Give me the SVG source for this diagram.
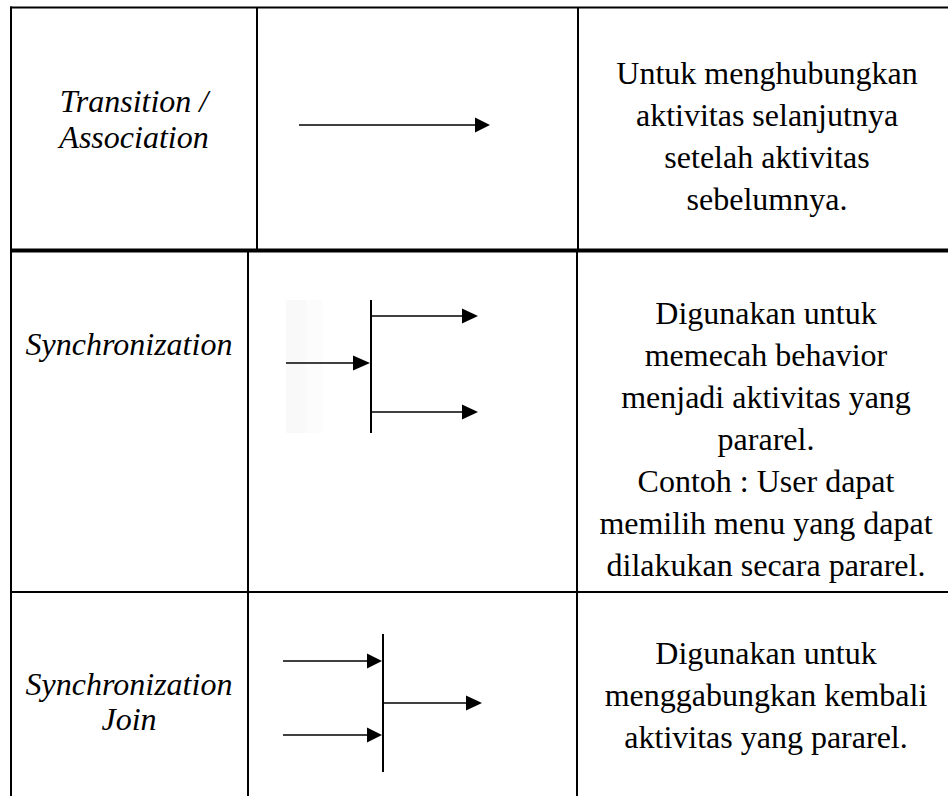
<svg xmlns="http://www.w3.org/2000/svg" width="948" height="796" viewBox="0 0 948 796">
<style>
.grid{stroke:#000;stroke-width:2;fill:none}
.thick{stroke:#000;stroke-width:4;fill:none}
.lbl{font-family:"Liberation Serif","Times New Roman",serif;font-size:32px;font-style:italic;fill:#000;text-anchor:middle}
.desc{font-family:"Liberation Serif","Times New Roman",serif;font-size:32px;fill:#000;text-anchor:middle}
.ln{stroke:#000;stroke-width:1.6;fill:none}
.bar{stroke:#000;stroke-width:2;fill:none}
.head{fill:#000}
</style>
<rect width="948" height="796" fill="#fff"/>
<g id="table">
<line class="grid" x1="10" y1="7.5" x2="948" y2="7.5"/>
<line class="grid" x1="11" y1="6.5" x2="11" y2="796"/>
<line class="grid" x1="257" y1="7.5" x2="257" y2="250"/>
<line class="grid" x1="578" y1="7.5" x2="578" y2="250"/>
<line class="thick" x1="10" y1="250.5" x2="948" y2="250.5"/>
<line class="grid" x1="248" y1="250" x2="248" y2="796"/>
<line class="grid" x1="577" y1="250" x2="577" y2="796"/>
<line class="grid" x1="10" y1="592" x2="948" y2="592"/>
</g>
<g id="row-transition">
<text class="lbl" x="134" y="112">Transition /</text>
<text class="lbl" x="134" y="148">Association</text>
<text class="desc" x="767" y="84">Untuk menghubungkan</text>
<text class="desc" x="767" y="126">aktivitas selanjutnya</text>
<text class="desc" x="767" y="168">setelah aktivitas</text>
<text class="desc" x="767" y="210">sebelumnya.</text>
</g>
<g id="row-sync">
<rect x="286" y="300" width="20" height="133" fill="#f9f9f9"/>
<rect x="306" y="300" width="16" height="133" fill="#fcfcfc"/>
<text class="lbl" x="129" y="355">Synchronization</text>
<text class="desc" x="766" y="324">Digunakan untuk</text>
<text class="desc" x="766" y="366">memecah behavior</text>
<text class="desc" x="766" y="408">menjadi aktivitas yang</text>
<text class="desc" x="766" y="450">pararel.</text>
<text class="desc" x="766" y="492">Contoh : User dapat</text>
<text class="desc" x="766" y="534">memilih menu yang dapat</text>
<text class="desc" x="766" y="576">dilakukan secara pararel.</text>
</g>
<g id="row-join">
<text class="lbl" x="129" y="695">Synchronization</text>
<text class="lbl" x="129" y="730">Join</text>
<text class="desc" x="766" y="664">Digunakan untuk</text>
<text class="desc" x="766" y="706">menggabungkan kembali</text>
<text class="desc" x="766" y="748">aktivitas yang pararel.</text>
</g>
<g id="connectors">
<line class="ln" x1="299" y1="125" x2="476" y2="125"/>
<polygon class="head" points="475,117.5 490,125 475,132.5"/>
<line class="bar" x1="371" y1="300" x2="371" y2="433"/>
<line class="ln" x1="371" y1="316" x2="463" y2="316"/>
<polygon class="head" points="462,308.5 478,316 462,323.5"/>
<line class="ln" x1="371" y1="412" x2="463" y2="412"/>
<polygon class="head" points="462,404.5 478,412 462,419.5"/>
<line class="ln" x1="286" y1="363" x2="354" y2="363"/>
<polygon class="head" points="353,355.5 370,363 353,370.5"/>
<line class="bar" x1="383" y1="634" x2="383" y2="772"/>
<line class="ln" x1="283" y1="661" x2="368" y2="661"/>
<polygon class="head" points="367,653.5 382,661 367,668.5"/>
<line class="ln" x1="283" y1="735" x2="368" y2="735"/>
<polygon class="head" points="367,727.5 382,735 367,742.5"/>
<line class="ln" x1="383" y1="703" x2="467" y2="703"/>
<polygon class="head" points="466,695.5 482,703 466,710.5"/>
</g>
</svg>
